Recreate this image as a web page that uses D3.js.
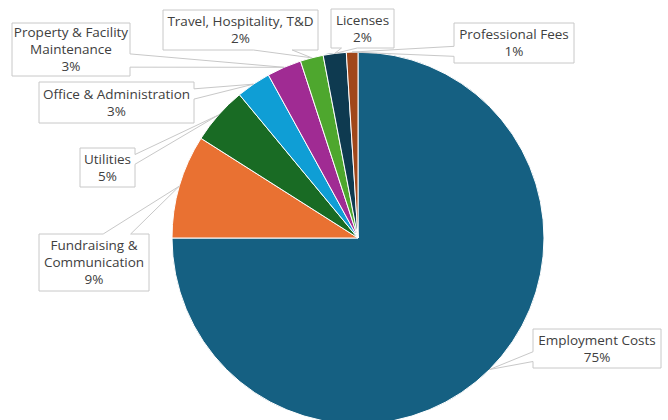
<!DOCTYPE html>
<html>
<head>
<meta charset="utf-8">
<script src="https://cdn.jsdelivr.net/npm/d3@7"></script>
<style>
  body { margin: 0; background: #fff; }
  text { font-family: "Open Sans", sans-serif; font-size: 13.5px; fill: #404040; }
</style>
</head>
<body>
<svg class="chart"></svg>
<script>
// cost breakdown, clockwise from 12 o'clock
var categories = ["Employment Costs", "Fundraising & Communication", "Utilities",
                  "Office & Administration", "Property & Facility Maintenance",
                  "Travel, Hospitality, T&D", "Licenses", "Professional Fees"];
var values = [75, 9, 5, 3, 3, 2, 2, 1];
var colors = ["#156082", "#e97132", "#196b24", "#0f9ed5", "#a02b93", "#4ea72e", "#0e3a50", "#a0471a"];

// callout boxes: [left, top, width, height]
var boxes = [[533, 329, 128, 39], [39, 234, 110, 57], [80, 148, 55, 39], [39, 82, 155, 41],
             [12, 23, 118, 53], [163, 10, 155, 40], [331, 9, 63, 39], [454, 23, 120, 40]];

var width = 668, height = 420
    , cx = 358, cy = 238, radius = 186;

var chart = d3.select('.chart')
    .attr('width', width)
    .attr('height', height);

var total = d3.sum(values);
var fmt = d3.format(".0%");

var pie = d3.pie().sort(null).value(function(d) { return d; });
var arc = d3.arc().innerRadius(0).outerRadius(radius);
var arcs = pie(values);

var main = chart.append('g')
    .attr('transform', 'translate(' + cx + ',' + cy + ')');

main.selectAll('path')
    .data(arcs)
    .enter().append('path')
    .attr('d', arc)
    .attr('fill', function(d, i) { return colors[i]; })
    .attr('stroke', '#fff')
    .attr('stroke-width', 1);

// wedge callout shape like the office one: base sits on the side facing the tip
function callout(b, tx, ty) {
  var x = b[0], y = b[1], w = b[2], h = b[3];
  var dx = tx - (x + w / 2), dy = ty - (y + h / 2);
  var dq = dx * h / w;
  var p;
  if (Math.abs(dy) > Math.abs(dq)) {
    var x1 = x + w * (dx > 0 ? 7 : 2) / 12, x2 = x + w * (dx > 0 ? 10 : 5) / 12;
    if (dy < 0) p = [[x, y], [x1, y], [tx, ty], [x2, y], [x + w, y], [x + w, y + h], [x, y + h]];
    else p = [[x, y], [x + w, y], [x + w, y + h], [x2, y + h], [tx, ty], [x1, y + h], [x, y + h]];
  } else {
    var y1 = y + h * (dy > 0 ? 7 : 2) / 12, y2 = y + h * (dy > 0 ? 10 : 5) / 12;
    if (dx > 0) p = [[x, y], [x + w, y], [x + w, y1], [tx, ty], [x + w, y2], [x + w, y + h], [x, y + h]];
    else p = [[x, y], [x + w, y], [x + w, y + h], [x, y + h], [x, y2], [tx, ty], [x, y1]];
  }
  return 'M' + p.join('L') + 'Z';
}

var labels = chart.append('g');

arcs.forEach(function(d, i) {
  var b = boxes[i];
  var mid = (d.startAngle + d.endAngle) / 2;
  var tx = cx + radius * Math.sin(mid), ty = cy - radius * Math.cos(mid);

  labels.append('path')
      .attr('d', callout(b, tx, ty))
      .attr('fill', '#fff')
      .attr('stroke', '#c8c8c8')
      .attr('stroke-width', 1);

  var t = labels.append('text')
      .attr('text-anchor', 'middle');

  // wrap the category name to the box width
  var words = categories[i].split(' '), lines = [], line = '';
  var probe = labels.append('text');
  words.forEach(function(wd) {
    var test = line ? line + ' ' + wd : wd;
    probe.text(test);
    if (line && probe.node().getComputedTextLength() > b[2] - 2) {
      lines.push(line); line = wd;
    } else line = test;
  });
  lines.push(line);
  probe.remove();
  lines.push(fmt(values[i] / total));

  var lh = 17;
  var y0 = b[1] + b[3] / 2 - (lines.length - 1) * lh / 2;
  lines.forEach(function(s, k) {
    t.append('tspan')
        .attr('x', b[0] + b[2] / 2)
        .attr('y', y0 + k * lh)
        .attr('dy', '0.35em')
        .text(s);
  });
});
</script>
</body>
</html>
